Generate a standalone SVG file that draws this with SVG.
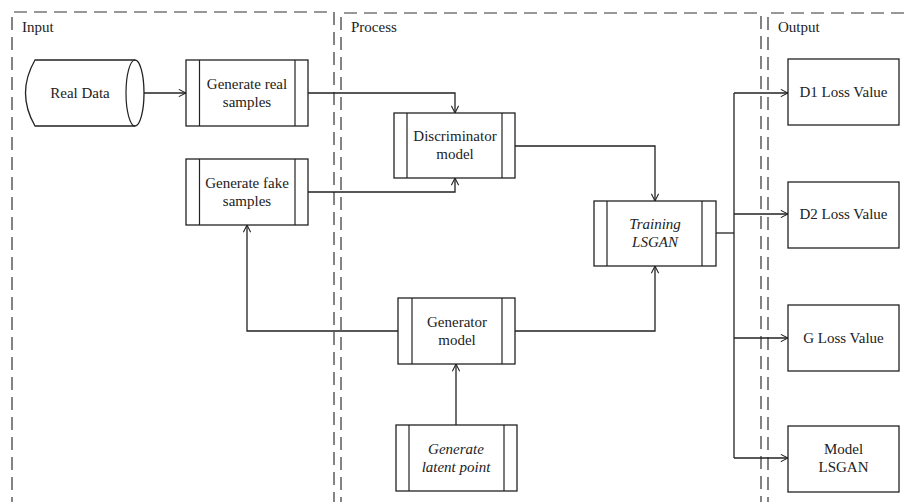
<svg xmlns="http://www.w3.org/2000/svg" width="907" height="502" viewBox="0 0 907 502" font-family="'Liberation Serif', 'DejaVu Serif', serif">
<style>
text{font-family:'Liberation Serif','DejaVu Serif',serif;font-size:15px;fill:#222;text-anchor:middle}
.lbl{text-anchor:start}
.it{font-style:italic}
.frame{fill:none;stroke:#333;stroke-width:1.2;stroke-dasharray:13 7}
.box{fill:#fff;stroke:#222;stroke-width:1.3}
.ln{fill:none;stroke:#222;stroke-width:1.2}
.cn{fill:none;stroke:#222;stroke-width:1.3;marker-end:url(#ah)}
.cl{fill:none;stroke:#222;stroke-width:1.3}
</style>
<defs>
<marker id="ah" viewBox="0 0 10 10" refX="10" refY="5" markerWidth="8" markerHeight="8" markerUnits="userSpaceOnUse" orient="auto">
<polyline points="1,0.5 10,5 1,9.5" fill="none" stroke="#222" stroke-width="1.3"/>
</marker>
</defs>
<rect width="907" height="502" fill="#fff"/>
<g id="lanes">
<polyline class="frame" points="12,510 12,12 334,12 334,510"/>
<polyline class="frame" points="341,510 341,13 761,13 761,510"/>
<polyline class="frame" points="768,510 768,13 915,13"/>
<text class="lbl" x="22" y="32">Input</text>
<text class="lbl" x="351" y="32">Process</text>
<text class="lbl" x="778" y="32">Output</text>
</g>
<g id="connectors">
<line class="cn" x1="144" y1="93" x2="186" y2="93"/>
<polyline class="cn" points="308,93 455,93 455,113"/>
<polyline class="cn" points="308,192 455,192 455,178"/>
<polyline class="cn" points="515,146 655,146 655,201"/>
<polyline class="cn" points="515,331 655,331 655,266"/>
<polyline class="cn" points="398,331 247,331 247,225"/>
<line class="cn" x1="456" y1="425" x2="456" y2="364"/>
<line class="cl" x1="716" y1="233" x2="734" y2="233"/>
<line class="cl" x1="734" y1="93" x2="734" y2="458"/>
<line class="cn" x1="734" y1="93" x2="788" y2="93"/>
<line class="cn" x1="734" y1="214" x2="788" y2="214"/>
<line class="cn" x1="734" y1="338" x2="788" y2="338"/>
<line class="cn" x1="734" y1="458" x2="788" y2="458"/>
</g>
<g id="real-data">
<path class="box" d="M35,60 L135,60 A9,33 0 0 1 135,126 L35,126 Q16,93 35,60 Z"/>
<path class="ln" d="M135,60 A9,33 0 0 0 135,126"/>
<text x="80" y="98">Real Data</text>
</g>
<g id="gen-real">
<rect class="box" x="186" y="60" width="122" height="66"/>
<line class="ln" x1="199.5" y1="60" x2="199.5" y2="126"/>
<line class="ln" x1="295" y1="60" x2="295" y2="126"/>
<text x="247" y="89">Generate real</text>
<text x="247" y="107">samples</text>
</g>
<g id="gen-fake">
<rect class="box" x="186" y="159" width="122" height="66"/>
<line class="ln" x1="199.5" y1="159" x2="199.5" y2="225"/>
<line class="ln" x1="295" y1="159" x2="295" y2="225"/>
<text x="247" y="188">Generate fake</text>
<text x="247" y="206">samples</text>
</g>
<g id="discriminator">
<rect class="box" x="394" y="113" width="121" height="65"/>
<line class="ln" x1="407" y1="113" x2="407" y2="178"/>
<line class="ln" x1="502" y1="113" x2="502" y2="178"/>
<text x="455" y="141">Discriminator</text>
<text x="455" y="159">model</text>
</g>
<g id="training">
<rect class="box" x="594" y="201" width="122" height="65"/>
<line class="ln" x1="607" y1="201" x2="607" y2="266"/>
<line class="ln" x1="702" y1="201" x2="702" y2="266"/>
<text class="it" x="655" y="229">Training</text>
<text class="it" x="655" y="247">LSGAN</text>
</g>
<g id="generator">
<rect class="box" x="398" y="298" width="117" height="66"/>
<line class="ln" x1="412" y1="298" x2="412" y2="364"/>
<line class="ln" x1="502" y1="298" x2="502" y2="364"/>
<text x="457" y="327">Generator</text>
<text x="457" y="345">model</text>
</g>
<g id="latent">
<rect class="box" x="396" y="425" width="121" height="66"/>
<line class="ln" x1="409" y1="425" x2="409" y2="491"/>
<line class="ln" x1="504" y1="425" x2="504" y2="491"/>
<text class="it" x="456" y="454">Generate</text>
<text class="it" x="456" y="472">latent point</text>
</g>
<g id="d1">
<rect class="box" x="788" y="59" width="111" height="66"/>
<text x="843.5" y="97">D1 Loss Value</text>
</g>
<g id="d2">
<rect class="box" x="788" y="182" width="111" height="66"/>
<text x="843.5" y="219">D2 Loss Value</text>
</g>
<g id="gl">
<rect class="box" x="788" y="305" width="111" height="66"/>
<text x="843.5" y="343">G Loss Value</text>
</g>
<g id="model">
<rect class="box" x="788" y="426" width="111" height="66"/>
<text x="843.5" y="454">Model</text>
<text x="843.5" y="472">LSGAN</text>
</g>
</svg>
